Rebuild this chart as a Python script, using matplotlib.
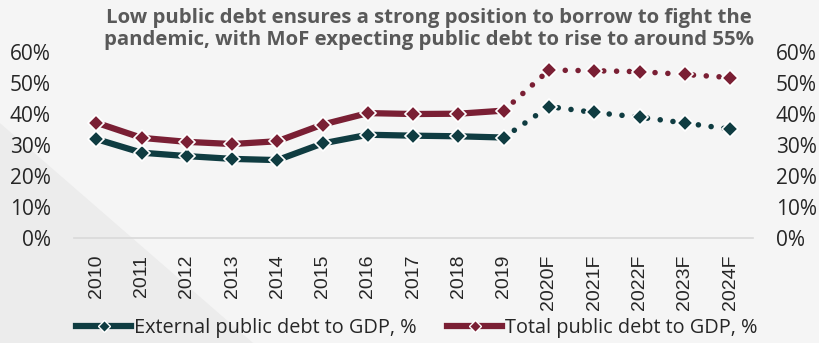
import matplotlib.pyplot as plt
from matplotlib.patches import Polygon
from matplotlib.lines import Line2D

years = ['2010', '2011', '2012', '2013', '2014', '2015', '2016', '2017', '2018', '2019',
         '2020F', '2021F', '2022F', '2023F', '2024F']
external = [32.0, 27.6, 26.5, 25.6, 25.2, 30.6, 33.4, 33.1, 32.9, 32.5,
            42.5, 40.6, 39.1, 37.2, 35.2]
total = [37.3, 32.4, 31.1, 30.4, 31.3, 36.7, 40.4, 40.1, 40.2, 41.2,
         54.3, 54.1, 53.8, 52.9, 51.9]
n_actual = 10  # last actual value is 2019, forecasts after

teal = '#0f3c41'
maroon = '#7a1f34'
plt.rcParams['font.family'] = ['Open Sans', 'DejaVu Sans']

fig = plt.figure(figsize=(8.19, 3.43), dpi=100)
fig.patch.set_facecolor('#f5f5f5')
# faint diagonal shading in the lower-left corner
fig.patches.append(Polygon([(0, 0), (0, 0.641), (0.309, 0)], closed=True,
                           transform=fig.transFigure, facecolor='#ececec', edgecolor='none', zorder=-2))

ax = fig.add_axes([0.090, 0.306, 0.829, 0.541])
ax.patch.set_alpha(0)
x = list(range(len(years)))

for vals, col in [(external, teal), (total, maroon)]:
    ax.plot(x[:n_actual], vals[:n_actual], color=col, lw=4.5, solid_capstyle='round', zorder=3)
    ax.plot(x[n_actual - 1:], vals[n_actual - 1:], color=col, lw=4.0,
            linestyle=(0, (0.01, 2.3)), dash_capstyle='round', zorder=3)
    ax.plot(x, vals, linestyle='none', marker='D', markersize=8, color=col,
            markeredgecolor='white', markeredgewidth=1.2, zorder=4)

ax.set_ylim(0, 60)
ax.set_xlim(-0.5, len(years) - 0.5)
ax.set_yticks(range(0, 61, 10))
ax.set_yticklabels([f'{v}%' for v in range(0, 61, 10)])
ax.set_xticks(x)
ax.set_xticklabels(years, rotation=90, family='Liberation Sans')
ax.tick_params(axis='both', length=0, colors='#262626')
ax.tick_params(axis='x', pad=12, labelsize=14)
ax.tick_params(axis='y', pad=16.5, labelsize=15)
for s in ['top', 'right', 'left']:
    ax.spines[s].set_visible(False)
ax.spines['bottom'].set_color('#d9d9d9')
ax.spines['bottom'].set_linewidth(1.2)

ax2 = ax.twinx()
ax2.set_ylim(0, 60)
ax2.set_yticks(range(0, 61, 10))
ax2.set_yticklabels([f'{v}%' for v in range(0, 61, 10)])
ax2.tick_params(axis='y', length=0, labelsize=15, colors='#262626', pad=16.5)
for s in ax2.spines.values():
    s.set_visible(False)

fig.text(0.524, 0.978, 'Low public debt ensures a strong position to borrow to fight the\n'
         'pandemic, with MoF expecting public debt to rise to around 55%',
         ha='center', va='top', fontsize=14.7, fontweight='bold', color='#595959', linespacing=1.15)

handles = [Line2D([], [], color=teal, lw=4.5, marker='D', markersize=6, markeredgecolor='white'),
           Line2D([], [], color=maroon, lw=4.5, marker='D', markersize=6, markeredgecolor='white')]
fig.legend(handles, ['External public debt to GDP, %', 'Total public debt to GDP, %'],
           loc='center', bbox_to_anchor=(0.509, 0.045), ncol=2, frameon=False,
           fontsize=14.3, handlelength=2.8, handletextpad=0.15, columnspacing=1.5,
           labelcolor='#262626', borderpad=0)

fig.savefig('out.png', dpi=100, facecolor=fig.get_facecolor())
